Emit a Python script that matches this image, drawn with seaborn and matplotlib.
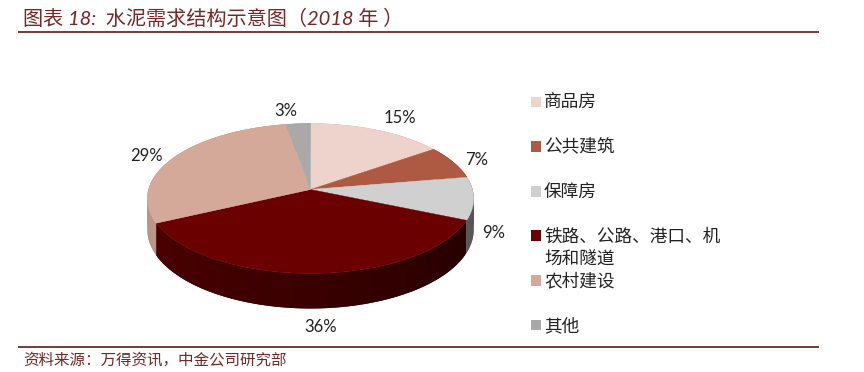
import numpy as np
import pandas as pd
import matplotlib
matplotlib.use("Agg")
import matplotlib.pyplot as plt
from matplotlib.colors import to_rgb
import seaborn as sns

# data
categories = ["商品房", "公共建筑", "保障房", "铁路、公路、港口、机\n场和隧道", "农村建设", "其他"]
shares = [15.1, 7.2, 9.2, 36.4, 29.4, 2.7]
pct_labels = ["15%", "7%", "9%", "36%", "29%", "3%"]
title = "图表 18:  水泥需求结构示意图（2018 年 ）"
source = "资料来源：万得资讯，中金公司研究部"

# style
colors = ["#EDD3CC", "#AE5A42", "#D0D0D0", "#6B0000", "#D5A99A", "#A9A9A9"]
wall_shade = [(.8, .8), (.6, .6), (.38, .42), (.36, .70), (.88, .88), (.8, .8)]
label_offsets = [(23, -12), (23, -2), (20, 35), (7, 54), (-28, -1), (-12, -13)]
CX, CY, RX, RY, K, DEPTH = 310.5, 189.5, 162.0, 73.9, 0.12, 30.8
INK = "#742828"
LATIN = "Lato"
CJK = "Noto Sans CJK SC"

sns.set_theme(style="white")
plt.rcParams["font.family"] = [LATIN, CJK, "DejaVu Sans"]

fig = plt.figure(figsize=(8.64, 3.72), dpi=100)
ax = fig.add_axes([0, 0, 1, 1])
ax.set_xlim(0, 864)
ax.set_ylim(372, 0)
ax.axis("off")


def project(theta, r=1.0, drop=0.0):
    """Clockwise angle from 12 o'clock on the tilted disc -> canvas position."""
    x, y = r * np.sin(theta), r * np.cos(theta)
    den = 1 + K * y
    return CX + RX * x / den, CY - RY * y / den + drop * DEPTH / den


edges = np.cumsum([0] + shares) / sum(shares) * 2 * np.pi

# side walls: overlapping strips so no seams show between them
for i in range(len(shares)):
    a0, a1 = edges[i], edges[i + 1]
    grid = np.linspace(a0, a1, max(3, int((a1 - a0) / 0.03)))
    base = np.array(to_rgb(colors[i]))
    for j in range(len(grid) - 1):
        seg = np.linspace(grid[j], grid[min(j + 2, len(grid) - 1)], 4)
        tx, ty = project(seg)
        bx, by = project(seg, drop=1.0)
        s = wall_shade[i][0] + (wall_shade[i][1] - wall_shade[i][0]) * j / max(1, len(grid) - 2)
        ax.fill(np.r_[tx, bx[::-1]], np.r_[ty, by[::-1]], facecolor=tuple(base * s),
                edgecolor="none", lw=0, zorder=2 + j * 1e-4)

# top faces
for i in range(len(shares)):
    arc = np.linspace(edges[i], edges[i + 1], 200)
    px, py = project(arc)
    ax.fill(np.r_[CX, px], np.r_[CY, py], color=colors[i], lw=0.3, zorder=3)

# percentage labels
for i, lab in enumerate(pct_labels):
    mid = (edges[i] + edges[i + 1]) / 2
    x, y = project(mid)
    ax.text(x + label_offsets[i][0], y + label_offsets[i][1], lab, fontsize=12,
            color="#222222", ha="center", va="center", family=LATIN, zorder=5)

# legend
legend_y = 102 + 44.6 * np.arange(len(categories))
legend = pd.DataFrame({"x": 536.0, "y": legend_y, "cat": categories})
sns.scatterplot(data=legend, x="x", y="y", hue="cat", palette=colors, marker="s", s=62,
                linewidth=0, legend=False, ax=ax, zorder=4)
ax.set_xlim(0, 864)
ax.set_ylim(372, 0)
ax.axis("off")
for yy, cat in zip(legend_y, categories):
    ax.text(544, yy - 8, cat, fontsize=12.7, color="#222222", va="top", ha="left",
            family=CJK, linespacing=1.32, zorder=5)

# header and footer
ax.plot([18, 819], [32, 32], color=INK, lw=1.3, solid_capstyle="butt")
ax.plot([18, 819], [347, 347], color=INK, lw=1.3, solid_capstyle="butt")
ax.text(23, 18, title, fontsize=14.5, color=INK, style="italic", va="center", ha="left",
        family=[LATIN, CJK])
ax.text(23, 360, source, fontsize=11.2, color=INK, va="center", ha="left", family=CJK)

fig.savefig("out.png", dpi=100)
